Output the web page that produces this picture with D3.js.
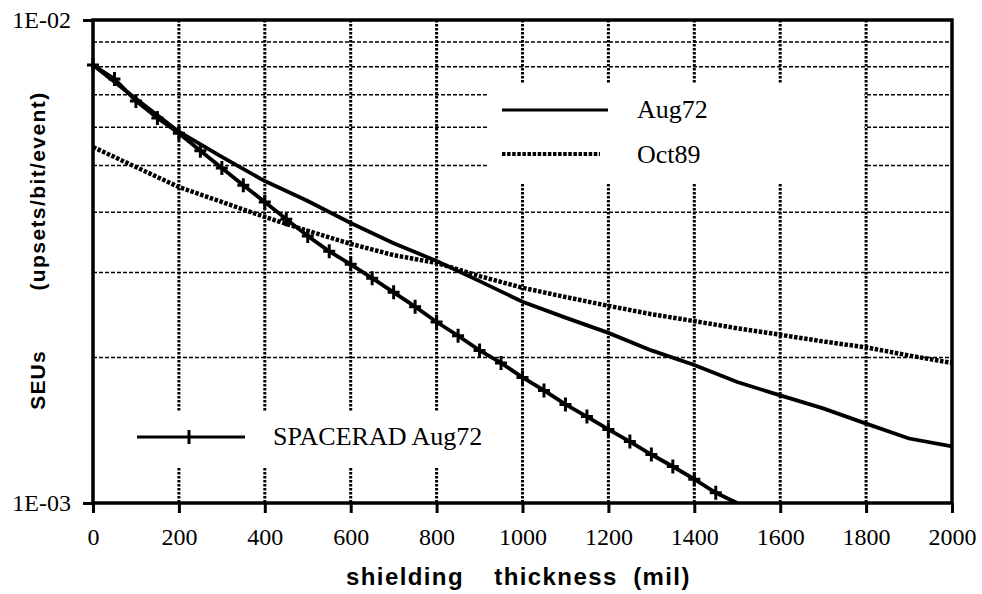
<!DOCTYPE html>
<html>
<head>
<meta charset="utf-8">
<script src="https://cdn.jsdelivr.net/npm/d3@7"></script>
<style>
  html, body { margin: 0; padding: 0; background: #fff; }
  svg { display: block; }
</style>
</head>
<body>
<svg id="chart" width="982" height="594"></svg>
<script>
// ---------- data ----------
const thickness = [0,100,200,300,400,500,600,700,800,900,1000,1100,1200,1300,1400,1500,1600,1700,1800,1900,2000];
const aug72 = [8.07e-3,6.87e-3,5.87e-3,5.21e-3,4.64e-3,4.22e-3,3.80e-3,3.45e-3,3.17e-3,2.88e-3,2.61e-3,2.42e-3,2.25e-3,2.07e-3,1.93e-3,1.78e-3,1.67e-3,1.57e-3,1.46e-3,1.36e-3,1.31e-3];
const oct89 = [5.46e-3,4.96e-3,4.51e-3,4.20e-3,3.91e-3,3.66e-3,3.44e-3,3.26e-3,3.14e-3,2.95e-3,2.79e-3,2.67e-3,2.56e-3,2.46e-3,2.38e-3,2.30e-3,2.23e-3,2.16e-3,2.10e-3,2.02e-3,1.95e-3];
const spaceradThickness = [0,50,100,150,200,250,300,350,400,450,500,550,600,650,700,750,800,850,900,950,1000,1050,1100,1150,1200,1250,1300,1350,1400,1450,1500];
const spaceradAug72 = [8.07e-3,7.55e-3,6.80e-3,6.27e-3,5.83e-3,5.36e-3,4.94e-3,4.55e-3,4.20e-3,3.87e-3,3.57e-3,3.32e-3,3.12e-3,2.92e-3,2.73e-3,2.55e-3,2.37e-3,2.22e-3,2.07e-3,1.95e-3,1.82e-3,1.71e-3,1.60e-3,1.51e-3,1.42e-3,1.34e-3,1.26e-3,1.19e-3,1.12e-3,1.05e-3,1.00e-3];
const xTicks = [0,200,400,600,800,1000,1200,1400,1600,1800,2000];
const yTicks = [1e-3, 1e-2];
const yTickLabels = ["1E-03", "1E-02"];
const yGrid = [2e-3,3e-3,4e-3,5e-3,6e-3,7e-3,8e-3,9e-3];
const seriesNames = ["Aug72", "Oct89", "SPACERAD Aug72"];
const xTitleWords = ["shielding", "thickness", "(mil)"];
const yTitleA = "SEUs";
const yTitleB = "(upsets/bit/event)";

// ---------- layout ----------
const L = 93, R = 952, T = 20, B = 503;
const serif = "'Liberation Serif','Times New Roman',Times,serif";
const sans = "'Liberation Sans',Arial,Helvetica,sans-serif";

const svg = d3.select("#chart");
const x = d3.scaleLinear().domain([0, 2000]).range([L, R]);
const y = d3.scaleLog().domain([1e-3, 1e-2]).range([B, T]);

// ---------- grid ----------
const grid = svg.append("g");
grid.selectAll("line.h").data(yGrid).join("line")
  .attr("x1", L).attr("x2", R)
  .attr("y1", d => y(d)).attr("y2", d => y(d))
  .attr("stroke", "#000").attr("stroke-width", 1.5)
  .attr("stroke-dasharray", "4,2");
grid.selectAll("line.v").data(xTicks.slice(1, -1)).join("line")
  .attr("x1", d => x(d)).attr("x2", d => x(d))
  .attr("y1", T).attr("y2", B)
  .attr("stroke", "#000").attr("stroke-width", 3)
  .attr("stroke-dasharray", "2.5,1.5");

// legend background boxes (interrupt grid)
svg.append("rect")
  .attr("x", x(920)).attr("y", 83)
  .attr("width", x(1796) - x(920)).attr("height", 100)
  .attr("fill", "#fff");
svg.append("rect")
  .attr("x", x(70)).attr("y", 412)
  .attr("width", x(960) - x(70)).attr("height", 55)
  .attr("fill", "#fff");

// ---------- series ----------
const line = d3.line().x(d => x(d[0])).y(d => y(d[1]));
svg.append("path")
  .datum(thickness.map((t, i) => [t, oct89[i]]))
  .attr("d", line).attr("fill", "none")
  .attr("stroke", "#000").attr("stroke-width", 4.5)
  .attr("stroke-dasharray", "3.5,1.6");
svg.append("path")
  .datum(thickness.map((t, i) => [t, aug72[i]]))
  .attr("d", line).attr("fill", "none")
  .attr("stroke", "#000").attr("stroke-width", 3.8);
const sp = spaceradThickness.map((t, i) => [t, spaceradAug72[i]]);
svg.append("path")
  .datum(sp)
  .attr("d", line).attr("fill", "none")
  .attr("stroke", "#000").attr("stroke-width", 3.8);
svg.selectAll("path.mk").data(sp.filter(d => d[1] > 1.0e-3)).join("path")
  .attr("d", d => `M${x(d[0]) - 6},${y(d[1])}h12M${x(d[0])},${y(d[1]) - 7}v14`)
  .attr("stroke", "#000").attr("stroke-width", 3).attr("fill", "none");

// ---------- axes ----------
const xAxis = svg.append("g").attr("transform", `translate(0,${B})`)
  .call(d3.axisBottom(x).tickValues(xTicks).tickSize(10).tickSizeOuter(0).tickPadding(15).tickFormat(d3.format("d")));
xAxis.select(".domain").remove();
xAxis.selectAll("line").attr("stroke-width", 3);
xAxis.selectAll("text").attr("font-family", serif).attr("font-size", 24).attr("fill", "#000");

const yAxis = svg.append("g").attr("transform", `translate(${L},0)`)
  .call(d3.axisLeft(y).tickValues(yTicks).tickSize(10).tickSizeOuter(0).tickPadding(12)
    .tickFormat((d, i) => yTickLabels[i]));
yAxis.select(".domain").remove();
yAxis.selectAll("line").attr("stroke-width", 3);
yAxis.selectAll("text").attr("font-family", serif).attr("font-size", 24).attr("fill", "#000");

// frame
svg.append("rect")
  .attr("x", L).attr("y", T).attr("width", R - L).attr("height", B - T)
  .attr("fill", "none").attr("stroke", "#000").attr("stroke-width", 3.5);

// ---------- legend ----------
const lg = svg.append("g");
lg.append("line").attr("x1", 502).attr("x2", 608).attr("y1", 110).attr("y2", 110)
  .attr("stroke", "#000").attr("stroke-width", 3);
lg.append("text").attr("x", 637).attr("y", 118).text(seriesNames[0])
  .attr("font-family", serif).attr("font-size", 26);
lg.append("line").attr("x1", 502).attr("x2", 600).attr("y1", 154).attr("y2", 154)
  .attr("stroke", "#000").attr("stroke-width", 4).attr("stroke-dasharray", "3.5,1.6");
lg.append("text").attr("x", 637).attr("y", 163).text(seriesNames[1])
  .attr("font-family", serif).attr("font-size", 26);
lg.append("line").attr("x1", 137).attr("x2", 245).attr("y1", 437).attr("y2", 437)
  .attr("stroke", "#000").attr("stroke-width", 3);
lg.append("line").attr("x1", 189).attr("x2", 189).attr("y1", 430).attr("y2", 444)
  .attr("stroke", "#000").attr("stroke-width", 3);
lg.append("text").attr("x", 273).attr("y", 445).text(seriesNames[2])
  .attr("font-family", serif).attr("font-size", 26);

// ---------- titles ----------
const xt = svg.append("text").attr("y", 585)
  .attr("text-anchor", "middle").attr("font-family", sans).attr("font-weight", "bold")
  .attr("font-size", 24).attr("letter-spacing", "1.4px");
const xtPos = [405, 556, 662];
xTitleWords.forEach((w, i) => {
  xt.append("tspan").attr("x", xtPos[i]).text(w);
});
svg.append("text").attr("transform", "translate(45,380) rotate(-90)")
  .attr("text-anchor", "middle").attr("font-family", sans).attr("font-weight", "bold")
  .attr("font-size", 21).attr("letter-spacing", "1.2px").text(yTitleA);
svg.append("text").attr("transform", "translate(45,191) rotate(-90)")
  .attr("text-anchor", "middle").attr("font-family", sans).attr("font-weight", "bold")
  .attr("font-size", 21).attr("letter-spacing", "1.4px").text(yTitleB);
</script>
</body>
</html>
